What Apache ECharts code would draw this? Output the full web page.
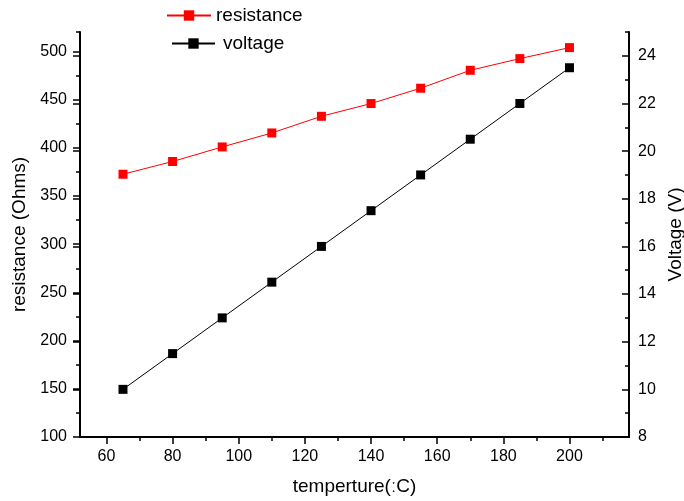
<!DOCTYPE html>
<html><head><meta charset="utf-8">
<script src="https://cdn.jsdelivr.net/npm/echarts@6/dist/echarts.min.js"></script>
<style>html,body{margin:0;padding:0;background:#fff}#c{width:684px;height:501px}</style>
</head><body><div id="c"></div>
<script>
const temperature = [65, 80, 95, 110, 125, 140, 155, 170, 185, 200];
const resistance = [372.5, 385.7, 400.8, 415.3, 432.6, 445.8, 461.7, 480.3, 492.4, 503.8];
const voltage = [10, 11.5, 13, 14.5, 16, 17.5, 19, 20.5, 22, 23.5];
const xMajorTicks = [60, 80, 100, 120, 140, 160, 180, 200];
const xMinorTicks = [70, 90, 110, 130, 150, 170, 190, 210];
const resMajorTicks = [100, 150, 200, 250, 300, 350, 400, 450, 500];
const resMinorTicks = [125, 175, 225, 275, 325, 375, 425, 475, 520];
const voltMajorTicks = [8, 10, 12, 14, 16, 18, 20, 22, 24];
const voltMinorTicks = [9, 11, 13, 15, 17, 19, 21, 23, 25];
const voltGhostTicks = [10, 12, 14, 16, 18, 20, 22, 24];

const FONT = 'Liberation Sans, Arial, sans-serif';
const axisLineStyle = { color: '#000', width: 2 };
const hidden = { show: false };

const chart = echarts.init(document.getElementById('c'), null, { renderer: 'canvas' });
chart.setOption({
  backgroundColor: '#fff',
  animation: false,
  grid: { left: 80, right: 55, top: 32, bottom: 64, containLabel: false, outerBoundsMode: 'none' },
  legend: [
    { data: ['resistance'], left: 161, top: 1, itemWidth: 44, itemHeight: 13, padding: 5,
      textStyle: { fontSize: 19, fontFamily: FONT, color: '#000' } },
    { data: ['voltage'], left: 166, top: 29, itemWidth: 43, itemHeight: 13, padding: 5, itemGap: 10,
      textStyle: { fontSize: 19, fontFamily: FONT, color: '#000', padding: [0, 0, 0, 3] } }
  ],
  xAxis: [
    { type: 'value', min: 52, max: 218, position: 'bottom',
      name: 'temperture(ːC)', nameLocation: 'middle', nameGap: 40,
      nameTextStyle: { fontSize: 19, fontFamily: FONT, color: '#000' },
      axisLine: { show: true, lineStyle: axisLineStyle },
      axisTick: { show: true, customValues: xMajorTicks, length: 7, inside: false, lineStyle: { color: '#000', width: 1.5 } },
      axisLabel: { customValues: xMajorTicks, fontSize: 16, fontFamily: FONT, color: '#000', margin: 12 },
      splitLine: hidden },
    { type: 'value', min: 52, max: 218, position: 'bottom',
      axisLine: hidden,
      axisTick: { show: true, customValues: xMinorTicks, length: 4, lineStyle: { color: '#000', width: 1.5 } },
      axisLabel: hidden, splitLine: hidden }
  ],
  yAxis: [
    { type: 'value', min: 100, max: 520, position: 'left',
      name: 'resistance (Ohms)', nameLocation: 'middle', nameGap: 50,
      nameTextStyle: { fontSize: 19, fontFamily: FONT, color: '#000' },
      axisLine: { show: true, lineStyle: axisLineStyle },
      axisTick: { show: true, customValues: resMajorTicks, length: 7, lineStyle: { color: '#000', width: 1.5 } },
      axisLabel: { customValues: resMajorTicks, fontSize: 16, fontFamily: FONT, color: '#000', margin: 13 },
      splitLine: hidden },
    { type: 'value', min: 8, max: 25, position: 'right',
      name: 'Voltage (V)', nameLocation: 'middle', nameGap: 33,
      nameTextStyle: { fontSize: 19, fontFamily: FONT, color: '#000' },
      axisLine: { show: true, lineStyle: axisLineStyle },
      axisTick: { show: true, customValues: voltMajorTicks, length: 7, inside: true, lineStyle: { color: '#000', width: 1.5 } },
      axisLabel: { customValues: voltMajorTicks, fontSize: 16, fontFamily: FONT, color: '#000', margin: 9 },
      splitLine: hidden },
    { type: 'value', min: 100, max: 520, position: 'left',
      axisLine: hidden,
      axisTick: { show: true, customValues: resMinorTicks, length: 4, lineStyle: { color: '#000', width: 1.5 } },
      axisLabel: hidden, splitLine: hidden },
    { type: 'value', min: 8, max: 25, position: 'right',
      axisLine: hidden,
      axisTick: { show: true, customValues: voltMinorTicks, length: 4, inside: true, lineStyle: { color: '#000', width: 1.5 } },
      axisLabel: hidden, splitLine: hidden },
    { type: 'value', min: 8, max: 25, position: 'left',
      axisLine: hidden,
      axisTick: { show: true, customValues: voltGhostTicks, length: 7, lineStyle: { color: '#000', width: 1.5 } },
      axisLabel: hidden, splitLine: hidden }
  ],
  series: [
    { name: 'resistance', type: 'line', xAxisIndex: 0, yAxisIndex: 0,
      data: temperature.map((t, i) => [t, resistance[i]]),
      symbol: 'rect', symbolSize: 9, color: '#ff0000',
      itemStyle: { color: '#ff0000' }, lineStyle: { color: '#ff0000', width: 1 } },
    { name: 'voltage', type: 'line', xAxisIndex: 0, yAxisIndex: 1,
      data: temperature.map((t, i) => [t, voltage[i]]),
      symbol: 'rect', symbolSize: 9, color: '#000',
      itemStyle: { color: '#000' }, lineStyle: { color: '#000', width: 1 } }
  ]
});
</script>
</body></html>
